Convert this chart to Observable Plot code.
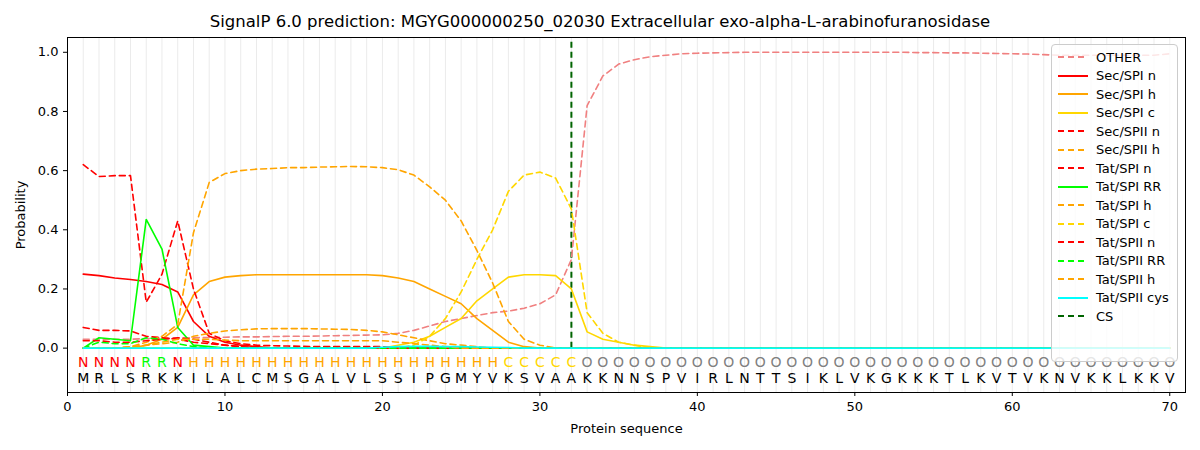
<!DOCTYPE html>
<html><head><meta charset="utf-8">
<script src="https://cdn.jsdelivr.net/npm/d3@7"></script>
<script src="https://cdn.jsdelivr.net/npm/@observablehq/plot@0.6"></script>
<style>
body{margin:0;background:#fff;font-family:"DejaVu Sans",sans-serif;}
#wrap{position:relative;width:1200px;height:450px;}
#title{position:absolute;top:12px;left:0;width:1200px;text-align:center;font-size:16.5px;color:#000;}
#chart{position:absolute;top:30px;left:0;}
#legend{position:absolute;left:1051px;top:44px;width:127px;height:318px;border:1px solid #ccc;border-radius:4px;background:rgba(255,255,255,0.8);font-size:13px;box-sizing:border-box;padding-top:3px;}
.it{height:18.5px;display:flex;align-items:center;}
.it svg{margin-left:6px;margin-right:8px;}
</style></head><body>
<div id="wrap"><div id="title">SignalP 6.0 prediction: MGYG000000250_02030 Extracellular exo-alpha-L-arabinofuranosidase</div><div id="chart"></div><div id="legend"></div></div>
<script>
const sequence = "MRLSRKKILALCMSGALVLSSIPGMYVKSVAAKKNNSPVIRLNTTSIKLVKGKKKTLKVTVKNVKKLKKV".split("");
const labels = "NNNNRRNHHHHHHHHHHHHHHHHHHHHCCCCCOOOOOOOOOOOOOOOOOOOOOOOOOOOOOOOOOOOOOO".split("");
const csPos = 32;
function pad(a){const r=a.slice();while(r.length<70)r.push(0);return r;}
const other = [0.03,0.03,0.03,0.03,0.032,0.033,0.034,0.035,0.036,0.037,0.038,0.038,0.039,0.04,0.04,0.041,0.042,0.043,0.044,0.045,0.05,0.06,0.075,0.09,0.1,0.11,0.12,0.125,0.135,0.15,0.18,0.3,0.82,0.92,0.96,0.975,0.985,0.99,0.995,0.997,0.998,0.999,1,1,1,1,1,1,1,1,1,1,1,0.999,0.999,0.998,0.998,0.997,0.996,0.995,0.994,0.992,0.99,0.99,0.99,0.99,0.99,0.99,0.99,0.995];
const secSpiN = pad([0.25,0.245,0.237,0.232,0.225,0.215,0.19,0.09,0.04,0.02,0.01,0.005]);
const secSpiH = pad([0,0,0,0,0.01,0.03,0.07,0.18,0.225,0.24,0.245,0.248,0.248,0.248,0.248,0.248,0.248,0.248,0.248,0.245,0.237,0.225,0.2,0.175,0.15,0.1,0.06,0.02,0.005]);
const secSpiC = pad([0,0,0,0,0,0,0,0,0,0,0,0,0,0,0,0,0,0,0,0,0.01,0.02,0.04,0.07,0.1,0.16,0.2,0.24,0.248,0.248,0.245,0.2,0.055,0.03,0.02,0.01,0.005]);
const secSpiiN = pad([0.07,0.06,0.06,0.058,0.04,0.035,0.03,0.02,0.015,0.01,0.005]);
const secSpiiH = pad([0,0,0,0,0.01,0.015,0.02,0.04,0.05,0.058,0.062,0.065,0.066,0.066,0.066,0.065,0.064,0.063,0.06,0.055,0.045,0.035,0.025,0.015,0.01,0.005]);
const tatSpiN = pad([0.62,0.58,0.583,0.583,0.155,0.25,0.43,0.2,0.05,0.025,0.015,0.01,0.008,0.007,0.006,0.005,0.005,0.005,0.005,0.005]);
const tatSpiRR = pad([0,0.035,0.03,0.025,0.435,0.335,0.07,0.01,0.005]);
const tatSpiH = pad([0,0,0,0.005,0.02,0.04,0.08,0.39,0.56,0.59,0.6,0.605,0.607,0.61,0.61,0.612,0.613,0.614,0.613,0.61,0.603,0.585,0.545,0.5,0.43,0.33,0.22,0.09,0.03,0.01]);
const tatSpiC = pad([0,0,0,0,0,0,0,0,0,0,0,0,0,0,0,0,0,0,0,0,0,0.01,0.04,0.1,0.19,0.3,0.4,0.53,0.585,0.595,0.575,0.47,0.12,0.05,0.02,0.01]);
const tatSpiiN = pad([0.025,0.025,0.02,0.02,0.025,0.03,0.035,0.03,0.02,0.01,0.005]);
const tatSpiiRR = pad([0,0.02,0.015,0.015,0.035,0.03,0.015,0.005]);
const tatSpiiH = pad([0,0,0,0.005,0.01,0.02,0.03,0.03,0.03,0.027,0.025,0.025,0.025,0.025,0.025,0.025,0.025,0.025,0.025,0.025,0.02,0.015,0.01,0.005]);
const tatSpiiCys = pad([0,0,0,0,0,0,0,0,0,0,0,0,0,0,0,0,0,0,0,0.003,0.005,0.006,0.006,0.005,0.005,0.004,0.003,0.002]);

const series = [
 ["OTHER",other,"#f08080",true],
 ["Sec/SPI n",secSpiN,"red",false],
 ["Sec/SPI h",secSpiH,"orange",false],
 ["Sec/SPI c",secSpiC,"gold",false],
 ["Sec/SPII n",secSpiiN,"red",true],
 ["Sec/SPII h",secSpiiH,"orange",true],
 ["Tat/SPI n",tatSpiN,"red",true],
 ["Tat/SPI RR",tatSpiRR,"lime",false],
 ["Tat/SPI h",tatSpiH,"orange",true],
 ["Tat/SPI c",tatSpiC,"gold",true],
 ["Tat/SPII n",tatSpiiN,"red",true],
 ["Tat/SPII RR",tatSpiiRR,"lime",true],
 ["Tat/SPII h",tatSpiiH,"orange",true],
 ["Tat/SPII cys",tatSpiiCys,"cyan",false]
];
const labColor = {N:"red",R:"lime",H:"orange",C:"gold",O:"gray"};
const pos = d3.range(1,71);
const seqData = pos.map(i=>({x:i,aa:sequence[i-1],lab:labels[i-1]}));
const marks = [
 Plot.ruleX(pos,{x:d=>d,stroke:"#ebebeb",strokeWidth:1}),
 Plot.ruleX([csPos],{stroke:"darkgreen",strokeWidth:2,strokeDasharray:"6,4",y1:0,y2:1.05}),
];
series.forEach(([name,vals,color,dash])=>{
 marks.push(Plot.line(pos.map(i=>({x:i,y:vals[i-1]})),{x:"x",y:"y",stroke:color,strokeWidth:1.6,strokeDasharray:dash?"6,4":null}));
});
marks.push(Plot.text(seqData,{x:"x",y:-0.047,text:"lab",fill:d=>labColor[d.lab],fontSize:14}));
marks.push(Plot.text(seqData,{x:"x",y:-0.102,text:"aa",fill:"black",fontSize:14}));
marks.push(Plot.frame({stroke:"black"}));
const chart = Plot.plot({
 width:1200,height:420,marginLeft:67,marginRight:15,marginTop:7,marginBottom:58,
 style:{fontFamily:"DejaVu Sans",fontSize:"13px"},
 x:{domain:[0,71],ticks:d3.range(0,71,10),label:"Protein sequence",labelAnchor:"center",labelArrow:"none",labelOffset:40,tickSize:4},
 y:{domain:[-0.15,1.05],ticks:d3.range(0,1.01,0.2),tickFormat:d3.format(".1f"),label:"Probability",labelAnchor:"center",labelArrow:"none",labelOffset:52,tickSize:4},
 marks
});
document.getElementById("chart").appendChild(chart);
const leg = document.getElementById("legend");
series.concat([["CS",null,"darkgreen",true]]).forEach(([name,,color,dash])=>{
 const d=document.createElement("div");d.className="it";
 d.innerHTML=`<svg width="30" height="10"><line x1="0" y1="5" x2="30" y2="5" stroke="${color}" stroke-width="2" ${dash?'stroke-dasharray="6,4"':''}/></svg><span>${name}</span>`;
 leg.appendChild(d);
});
</script></body></html>
